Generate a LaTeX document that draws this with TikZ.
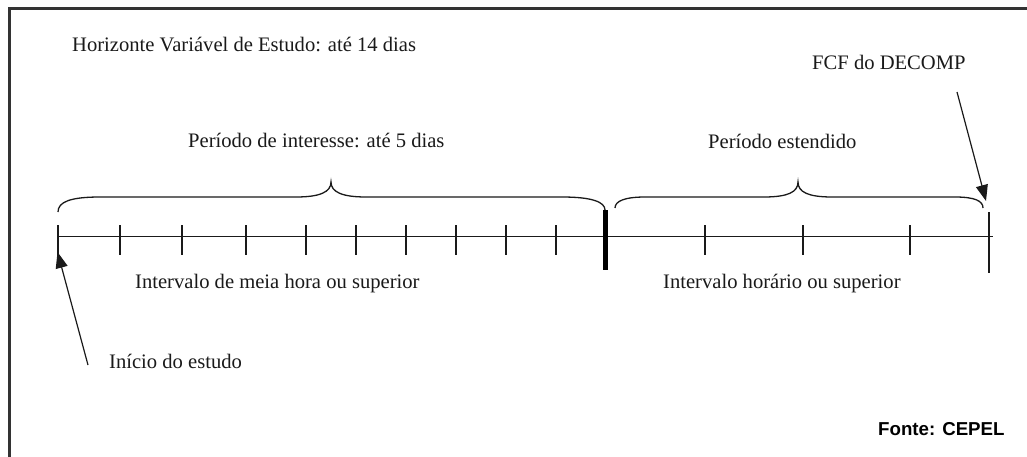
\documentclass[tikz,border=0pt]{standalone}
\usepackage{fontspec}
\setmainfont{Liberation Serif}
\newfontfamily\arialfont{Liberation Sans}
\usetikzlibrary{arrows.meta}
\definecolor{ink}{HTML}{1A1A1A}
\definecolor{frame}{HTML}{333333}
\begin{document}
\begin{tikzpicture}[x=1pt,y=-1pt,
  lbl/.style={anchor=base west,inner sep=0pt,text=ink,font=\fontsize{20.6}{24}\selectfont},
  src/.style={anchor=base west,inner sep=0pt,text=black,font=\arialfont\bfseries\fontsize{18.7}{22}\selectfont},
  axis/.style={draw=ink,line width=1.4pt},
  tick/.style={draw=ink,line width=1.2pt},
  brace/.style={draw=ink,line width=1.3pt},
  pointer/.style={draw=ink,line width=1.2pt,-{Triangle[length=16pt,width=12pt]}}]
\useasboundingbox (0,0) rectangle (1027,457);
\fill[white] (0,0) rectangle (1027,457);
% frame (left and top edges visible)
\draw[frame,line width=2.6pt] (9.5,457) -- (9.5,8.5) -- (1027,8.5);
% texts
\node[lbl] (horiz) at (72,51.5) {Horizonte Variável de Estudo: até 14 dias};
\node[lbl] (pint) at (188,148) {Período de interesse: até 5 dias};
\node[lbl] (pext) at (708,149) {Período estendido};
\node[lbl] (fcf) at (812,70) {FCF do DECOMP};
\node[lbl] (imh) at (135,288) {Intervalo de meia hora ou superior};
\node[lbl] (iho) at (663,288) {Intervalo horário ou superior};
\node[lbl] (ini) at (109,368) {Início do estudo};
\node[src] (fonte) at (878,435) {Fonte: CEPEL};
% axis
\coordinate (a0) at (58,236.5);
\coordinate (a1) at (993,236.5);
\draw[axis] (a0) -- (a1);
\foreach \x in {58,120,182,246,306,356,406,456,506,556,705,803,910}
  \draw[tick] (\x,225) -- (\x,255);
\coordinate (endtop) at (989,212);
\coordinate (endbot) at (989,273);
\draw[tick] (endtop) -- (endbot);
\coordinate (bartop) at (605,210);
\coordinate (barbot) at (605,270);
\draw[draw=black,line width=5pt] (bartop) -- (barbot);
% braces
\draw[brace] (58,212) .. controls (58,202) and (70,197) .. (100,197)
  -- (296,197) .. controls (320,197) and (331,192) .. (331,182)
  .. controls (331,192) and (342,197) .. (366,197)
  -- (562,197) .. controls (592,197) and (605,202) .. (605,210);
\draw[brace] (615,208) .. controls (615,201) and (625,197) .. (645,197)
  -- (764,197) .. controls (788,197) and (798,192) .. (798,182)
  .. controls (798,192) and (808,197) .. (832,197)
  -- (955,197) .. controls (975,197) and (983,201) .. (983,208);
% pointers
\coordinate (inistart) at (88,365);
\coordinate (initip) at (57.5,252);
\draw[pointer] (inistart) -- (initip);
\coordinate (fcfstart) at (957,92);
\coordinate (fcftip) at (986,201);
\draw[pointer] (fcfstart) -- (fcftip);
\end{tikzpicture}
\end{document}
